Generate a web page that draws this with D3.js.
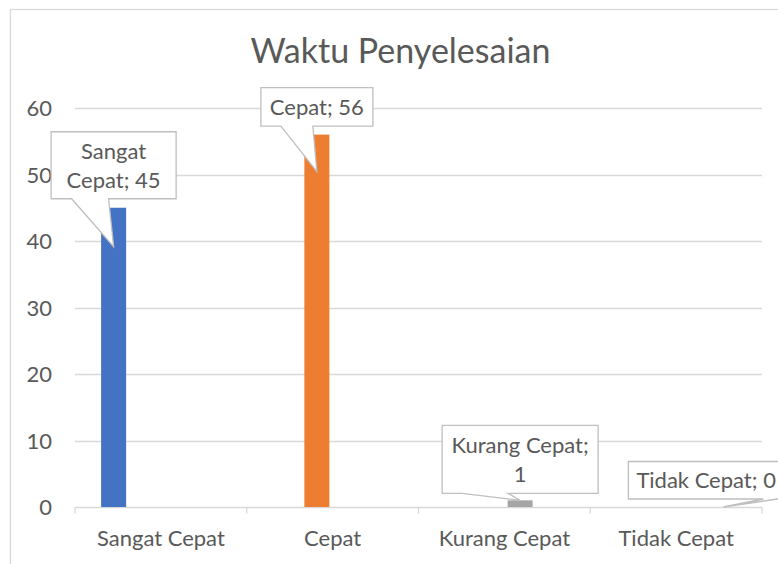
<!DOCTYPE html>
<html><head><meta charset="utf-8">
<script src="https://cdn.jsdelivr.net/npm/d3@7"></script>
<style>
html,body{margin:0;padding:0;background:#fff;overflow:hidden;}
text{font-family:Lato,"Noto Sans",sans-serif;fill:#595959;}
</style></head>
<body>
<svg id="chart" width="778" height="564"></svg>
<script>
// ---- data ----
const title = "Waktu Penyelesaian";
const categories = ["Sangat Cepat", "Cepat", "Kurang Cepat", "Tidak Cepat"];
const values = [45, 56, 1, 0];
const yTicks = [0, 10, 20, 30, 40, 50, 60];
const labelLines = [["Sangat", "Cepat; 45"], ["Cepat; 56"], ["Kurang Cepat;", "1"], ["Tidak Cepat; 0"]];

// ---- styles / layout ----
const colors = ["#4472C4", "#ED7D31", "#A5A5A5", "#FFC000"];
// callout layout relative to tip (tip = bar centre, bar top + tipDy)
const calloutLayout = [
  {tipDy: 39, x0: -62.5, x1: 62.5, y0: -115, y1: -48, bL: -42, bR: -5, align: "middle"},
  {tipDy: 37, x0: -56, x1: 56, y0: -84, y1: -45.5, bL: -36, bR: -4, align: "middle"},
  {tipDy: 0, x0: -78, x1: 78, y0: -75, y1: -7, bL: -58, bR: -12, align: "middle"},
  {tipDy: 0, x0: -95, x1: 70, y0: -45.5, y1: -8, bL: 40, bR: 54, align: "start"}
];
const fs = 22;

const svg = d3.select("#chart");
const M = {left: 75, right: 762, top: 108, bottom: 507};

// outer chart border
svg.append("rect").attr("x", 10.5).attr("y", 9.5).attr("width", 900).attr("height", 900)
  .attr("fill", "#fff").attr("stroke", "#D9D9D9").attr("stroke-width", 1.3);

const x0 = d3.scaleBand().domain(categories).range([M.left, M.right]).paddingInner(0).paddingOuter(0);
const x1 = d3.scaleBand().domain(d3.range(categories.length)).range([0, x0.bandwidth()])
  .paddingInner(0.206).paddingOuter(0.829);
const y = d3.scaleLinear().domain([0, 60]).range([M.bottom, M.top]);

// title
svg.append("text").attr("x", 400.5).attr("y", 62.5).attr("text-anchor", "middle")
  .style("font-size", "34px").text(title);

// gridlines
svg.append("g").selectAll("line").data(yTicks.filter(d => d > 0)).join("line")
  .attr("x1", M.left).attr("x2", M.right)
  .attr("y1", d => Math.round(y(d)) + 0.5).attr("y2", d => Math.round(y(d)) + 0.5)
  .attr("stroke", "#D9D9D9").attr("stroke-width", 1.3);

// y axis labels
const yAxis = d3.axisLeft(y).tickValues(yTicks).tickSize(0).tickPadding(0);
const gy = svg.append("g").attr("transform", `translate(52,0)`).call(yAxis);
gy.select(".domain").remove();
gy.selectAll("text").style("font-size", fs + "px").attr("fill", "#595959").attr("dy", "0.36em")
  .style("font-family", "Lato,'Noto Sans',sans-serif");

// x axis
const xAxis = d3.axisBottom(x0).tickSize(0).tickPadding(0);
const gx = svg.append("g").attr("transform", `translate(0,${Math.round(y(0)) + 0.5})`).call(xAxis);
gx.select(".domain").attr("stroke", "#D9D9D9").attr("stroke-width", 1.3).attr("d", `M${M.left},0H${M.right}`);
gx.selectAll("text").style("font-size", fs + "px").attr("fill", "#595959").attr("y", 38).attr("dy", "0")
  .style("font-family", "Lato,'Noto Sans',sans-serif");
const bounds = categories.map(c => x0(c)).concat([M.right]);
gx.append("g").selectAll("line").data(bounds).join("line")
  .attr("x1", d => d).attr("x2", d => d).attr("y1", 0).attr("y2", 6)
  .attr("stroke", "#D9D9D9").attr("stroke-width", 1.3);

// bars: series i has its value only in category i
const barData = values.map((v, i) => ({cat: categories[i], s: i, v}));
svg.append("g").selectAll("rect").data(barData).join("rect")
  .attr("x", d => x0(d.cat) + x1(d.s))
  .attr("width", x1.bandwidth())
  .attr("y", d => y(d.v))
  .attr("height", d => y(0) - y(d.v))
  .attr("fill", d => colors[d.s]);

// callouts
const cg = svg.append("g");
barData.forEach((d, i) => {
  const L = calloutLayout[i];
  const tx = x0(d.cat) + x1(d.s) + x1.bandwidth() / 2;
  const ty = y(d.v) + L.tipDy;
  const X0 = tx + L.x0, X1 = tx + L.x1, Y0 = ty + L.y0, Y1 = ty + L.y1;
  const p = `M${X0},${Y0}H${X1}V${Y1}H${tx + L.bR}L${tx},${ty}L${tx + L.bL},${Y1}H${X0}Z`;
  cg.append("path").attr("d", p).attr("fill", "#fff").attr("stroke", "#BFBFBF").attr("stroke-width", 1.3);
  const lines = labelLines[i];
  const lh = 29;
  const cy = (Y0 + Y1) / 2;
  const tX = L.align === "start" ? X0 + 8 : (X0 + X1) / 2;
  lines.forEach((ln, k) => {
    cg.append("text").attr("x", tX).attr("y", cy + (k - (lines.length - 1) / 2) * lh)
      .attr("dy", "0.36em").attr("text-anchor", L.align)
      .style("font-size", fs + "px").text(ln);
  });
});
</script>
</body></html>
